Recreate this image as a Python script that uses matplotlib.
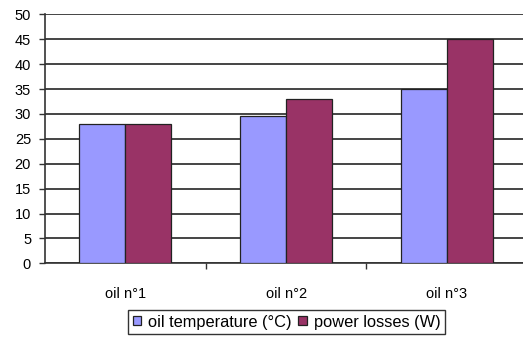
import matplotlib
matplotlib.use("Agg")
import matplotlib.pyplot as plt
import numpy as np

categories = ["oil n°1", "oil n°2", "oil n°3"]
oil_temperature = [28, 29.5, 35]
power_losses = [28, 33, 45]
series_labels = ["oil temperature (°C)", "power losses (W)"]
y_ticks = [0, 5, 10, 15, 20, 25, 30, 35, 40, 45, 50]

plt.rcParams["font.family"] = ["Liberation Sans", "DejaVu Sans"]
plt.rcParams["font.size"] = 10.5

fig = plt.figure(figsize=(5.23, 3.39), dpi=100)
ax = fig.add_axes([0.086, 0.2233, 0.922, 0.7345])

x = np.arange(len(categories))
w = 0.286
ax.bar(x - w / 2, oil_temperature, w, color="#9999FF", edgecolor="#222222",
       linewidth=0.9, label=series_labels[0], zorder=3)
ax.bar(x + w / 2, power_losses, w, color="#993366", edgecolor="#222222",
       linewidth=0.9, label=series_labels[1], zorder=3)

ax.set_xlim(-0.5, 2.5)
ax.set_ylim(0, 50)
ax.set_yticks(y_ticks)
ax.yaxis.grid(True, color="#444444", linewidth=1.4, zorder=0)
ax.set_axisbelow(True)

ax.set_xticks(x)
ax.set_xticklabels(categories)
ax.set_xticks([0.5, 1.5], minor=True)
ax.tick_params(axis="x", which="major", length=0, pad=17)
ax.tick_params(axis="x", which="minor", length=4, width=1, color="#333333", direction="out")
ax.tick_params(axis="y", length=4, width=1, color="#333333", pad=6, direction="out")

for s in ("top", "right"):
    ax.spines[s].set_visible(False)
for s in ("left", "bottom"):
    ax.spines[s].set_color("#333333")
    ax.spines[s].set_linewidth(1.2)

leg = fig.legend(loc="center", bbox_to_anchor=(0.548, 0.050), ncol=2,
                 frameon=True, fancybox=False, edgecolor="black",
                 handlelength=0.5, handleheight=0.5, handletextpad=0.45,
                 columnspacing=0.4, borderpad=0.3, borderaxespad=0,
                 fontsize=11.8)
leg.get_frame().set_linewidth(1.0)
for h in leg.legend_handles:
    h.set_edgecolor("#222222")
    h.set_linewidth(0.9)

fig.savefig("out.png", dpi=100)
